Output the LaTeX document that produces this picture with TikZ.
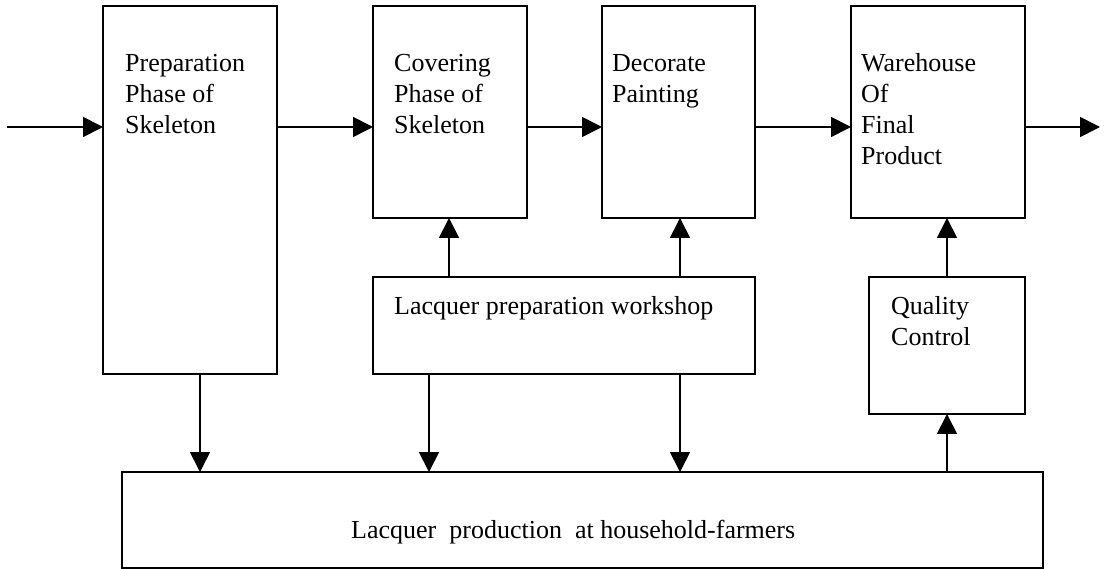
\documentclass[tikz,border=0pt]{standalone}
\usepackage{fontspec}
\setmainfont{Liberation Serif}
\usetikzlibrary{arrows.meta}
\begin{document}
\begin{tikzpicture}[x=1pt,y=-1pt,
  box/.style={draw,line width=1.8pt,rectangle,inner sep=0pt,outer sep=0pt,anchor=north west},
  lbl/.style={inner sep=0pt,anchor=north west,align=left,font=\fontsize{26}{31}\selectfont},
  arr/.style={line width=1.8pt,-{Triangle[length=20pt,width=20pt]}}]
\useasboundingbox (0,0) rectangle (1112,569);

% process boxes
\node[box,minimum width=174pt,minimum height=368pt] (prep)  at (103,6)   {};
\node[box,minimum width=154pt,minimum height=212pt] (cover) at (373,6)   {};
\node[box,minimum width=153pt,minimum height=212pt] (decor) at (602,6)   {};
\node[box,minimum width=174pt,minimum height=212pt] (ware)  at (851,6)   {};
\node[box,minimum width=382pt,minimum height=97pt]  (shop)  at (373,277) {};
\node[box,minimum width=156pt,minimum height=137pt] (qc)    at (869,277) {};
\node[box,minimum width=921pt,minimum height=96pt]  (farm)  at (122,472) {};

% box texts (first baseline = top + 0.7*31pt)
\node[lbl] (tprep)  at (125,49.3)  {\strut Preparation\\Phase of\\Skeleton};
\node[lbl] (tcover) at (394,49.3)  {\strut Covering\\Phase of\\Skeleton};
\node[lbl] (tdecor) at (612,49.3)  {\strut Decorate\\Painting};
\node[lbl] (tware)  at (861,49.3)  {\strut Warehouse\\Of\\Final\\Product};
\node[lbl] (tshop)  at (394,292.3) {\strut Lacquer preparation workshop};
\node[lbl] (tqc)    at (891,292.3) {\strut Quality\\Control};
\node[lbl] (tfarm)  at (351,516.3) {\strut Lacquer\ \ production\ \ at household-farmers};

% reference points for connectors
\coordinate (in)  at (7,127);
\coordinate (out) at (1100,127);
\coordinate (xa) at (200,0);
\coordinate (xb) at (449,0);
\coordinate (xc) at (429,0);
\coordinate (xd) at (680,0);
\coordinate (xe) at (947,0);

% main flow
\draw[arr] (in) -- (prep.west |- in);
\draw[arr] (prep.east |- in) -- (cover.west |- in);
\draw[arr] (cover.east |- in) -- (decor.west |- in);
\draw[arr] (decor.east |- in) -- (ware.west |- in);
\draw[arr] (ware.east |- in) -- (out);

% lacquer supply
\draw[arr] (shop.north -| xb) -- (cover.south -| xb);
\draw[arr] (shop.north -| xd) -- (decor.south -| xd);
\draw[arr] (prep.south -| xa) -- (farm.north -| xa);
\draw[arr] (shop.south -| xc) -- (farm.north -| xc);
\draw[arr] (shop.south -| xd) -- (farm.north -| xd);

% quality control
\draw[arr] (farm.north -| xe) -- (qc.south -| xe);
\draw[arr] (qc.north -| xe) -- (ware.south -| xe);
\end{tikzpicture}
\end{document}
